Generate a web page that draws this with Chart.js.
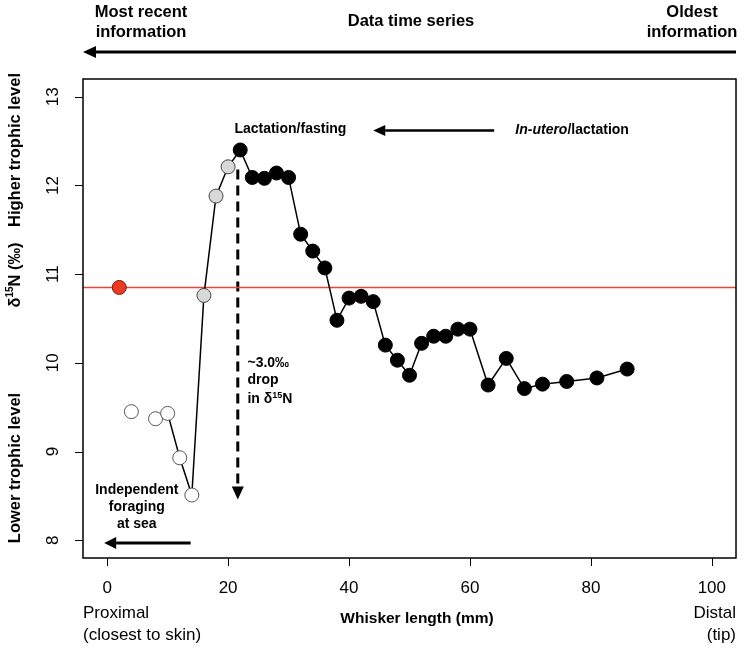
<!DOCTYPE html>
<html>
<head>
<meta charset="utf-8">
<script src="https://cdn.jsdelivr.net/npm/chart.js@4/dist/chart.umd.min.js"></script>
<style>
  html, body { margin: 0; padding: 0; background: #fff; }
  #wrap { width: 744px; height: 648px; position: relative; }
</style>
</head>
<body>
<div id="wrap"><canvas id="chart"></canvas></div>
<script>
// ==================== Data ====================
// whisker length (mm) and d15N (permil)
const whiteX = [4, 8, 10, 12, 14];
const whiteY = [9.45, 9.37, 9.43, 8.93, 8.51];

const greyX = [16, 18, 20];
const greyY = [10.76, 11.88, 12.21];

const blackX = [22, 24, 26, 28, 30, 32, 34, 36, 38, 40, 42, 44, 46, 48, 50, 52, 54, 56, 58, 60, 63, 66, 69, 72, 76, 81, 86];
const blackY = [12.40, 12.09, 12.08, 12.14, 12.09, 11.45, 11.26, 11.07, 10.48, 10.73, 10.75, 10.69, 10.20, 10.03, 9.86,
                10.22, 10.30, 10.30, 10.38, 10.38, 9.75, 10.05, 9.71, 9.76, 9.79, 9.83, 9.93];

const redX = [2];
const redY = [10.85];
const refLevel = 10.85;

// first point that is joined by the line
const lineStartX = 10;

const xTicks = [0, 20, 40, 60, 80, 100];
const yTicks = [8, 9, 10, 11, 12, 13];
const xRange = [-4, 104];
const yRange = [7.8, 13.2];

// ==================== Helpers ====================
const FONT = "'Liberation Sans', Arial, Helvetica, sans-serif";

function pts(xs, ys) {
  return xs.map((x, i) => ({ x: x, y: ys[i] }));
}

const linePts = pts(
  whiteX.concat(greyX, blackX),
  whiteY.concat(greyY, blackY)
).filter(p => p.x >= lineStartX);

function arrow(ctx, x1, y1, x2, y2, lw, headLen, headW, dash) {
  const ang = Math.atan2(y2 - y1, x2 - x1);
  const bx = x2 - Math.cos(ang) * headLen;
  const by = y2 - Math.sin(ang) * headLen;
  ctx.save();
  ctx.strokeStyle = '#000';
  ctx.fillStyle = '#000';
  ctx.lineWidth = lw;
  ctx.setLineDash(dash || []);
  ctx.beginPath();
  ctx.moveTo(x1, y1);
  ctx.lineTo(bx, by);
  ctx.stroke();
  ctx.setLineDash([]);
  ctx.beginPath();
  ctx.moveTo(x2, y2);
  ctx.lineTo(bx + Math.sin(ang) * headW / 2, by - Math.cos(ang) * headW / 2);
  ctx.lineTo(bx - Math.sin(ang) * headW / 2, by + Math.cos(ang) * headW / 2);
  ctx.closePath();
  ctx.fill();
  ctx.restore();
}

// segments: [{t, f, dy}] drawn on one baseline
function rich(ctx, segs, x, y, align) {
  let w = 0;
  segs.forEach(s => { ctx.font = s.f; w += ctx.measureText(s.t).width; });
  let cx = align === 'center' ? x - w / 2 : (align === 'right' ? x - w : x);
  ctx.textAlign = 'left';
  segs.forEach(s => {
    ctx.font = s.f;
    ctx.fillText(s.t, cx, y + (s.dy || 0));
    cx += ctx.measureText(s.t).width;
  });
}

function text(ctx, str, x, y, font, align) {
  ctx.font = font;
  ctx.textAlign = align || 'center';
  ctx.fillText(str, x, y);
}

// ==================== Plugin: frame, axes, notes ====================
const decor = {
  id: 'decor',
  beforeDatasetsDraw(chart) {
    const ctx = chart.ctx;
    const xs = chart.scales.x, ys = chart.scales.y;
    // dashed drop arrow
    const dx = xs.getPixelForValue(21.6);
    arrow(ctx, dx, ys.getPixelForValue(12.18), dx, ys.getPixelForValue(8.46), 3, 13, 12, [10, 6]);
  },
  afterDraw(chart) {
    const ctx = chart.ctx;
    const a = chart.chartArea;
    const xs = chart.scales.x, ys = chart.scales.y;
    const X = v => xs.getPixelForValue(v);
    const Y = v => ys.getPixelForValue(v);

    ctx.save();
    ctx.fillStyle = '#000';
    ctx.textBaseline = 'middle';

    // frame
    ctx.strokeStyle = '#000';
    ctx.lineWidth = 1.5;
    ctx.strokeRect(a.left, a.top, a.right - a.left, a.bottom - a.top);

    // x ticks
    ctx.lineWidth = 1;
    xTicks.forEach(v => {
      const px = Math.round(X(v)) + 0.5;
      ctx.beginPath();
      ctx.moveTo(px, a.bottom);
      ctx.lineTo(px, a.bottom + 8);
      ctx.stroke();
      text(ctx, String(v), X(v), a.bottom + 30, '17px ' + FONT);
    });

    // y ticks, labels rotated like base R
    yTicks.forEach(v => {
      const py = Math.round(Y(v)) + 0.5;
      ctx.beginPath();
      ctx.moveTo(a.left, py);
      ctx.lineTo(a.left - 8, py);
      ctx.stroke();
      ctx.save();
      ctx.translate(a.left - 30, Y(v));
      ctx.rotate(-Math.PI / 2);
      text(ctx, String(v), 0, 0, '17px ' + FONT);
      ctx.restore();
    });

    // y axis titles
    const bold16 = 'bold 16.5px ' + FONT;
    ctx.save();
    ctx.translate(15, 0);
    ctx.rotate(-Math.PI / 2);
    text(ctx, 'Higher trophic level', -150, 0, bold16);
    text(ctx, 'Lower trophic level', -468, 0, bold16);
    rich(ctx, [
      { t: 'δ', f: bold16 },
      { t: '15', f: 'bold 10px ' + FONT, dy: -5 },
      { t: 'N (‰)', f: bold16 }
    ], -275, 0, 'center');
    ctx.restore();

    // bottom texts
    text(ctx, 'Proximal', a.left, 613, '17px ' + FONT, 'left');
    text(ctx, '(closest to skin)', a.left, 635, '17px ' + FONT, 'left');
    text(ctx, 'Whisker length (mm)', 417, 619, 'bold 15.5px ' + FONT, 'center');
    text(ctx, 'Distal', a.right, 613, '17px ' + FONT, 'right');
    text(ctx, '(tip)', a.right, 635, '17px ' + FONT, 'right');

    // header
    text(ctx, 'Most recent', 141, 12, bold16);
    text(ctx, 'information', 141, 32, bold16);
    text(ctx, 'Data time series', 411, 21, bold16);
    text(ctx, 'Oldest', 692, 12, bold16);
    text(ctx, 'information', 692, 32, bold16);
    arrow(ctx, a.right, 52, a.left, 52, 3, 13, 12);

    // notes inside the plot
    const b14 = 'bold 14px ' + FONT;
    text(ctx, 'Lactation/fasting', X(30.3), Y(12.63), b14);
    arrow(ctx, X(64), Y(12.62), X(44), Y(12.62), 2.5, 12, 11);
    rich(ctx, [
      { t: 'In-utero', f: 'italic bold 14px ' + FONT },
      { t: '/lactation', f: b14 }
    ], X(67.5), Y(12.62), 'left');

    text(ctx, '~3.0‰', X(23.2), Y(10.0), b14, 'left');
    text(ctx, 'drop', X(23.2), Y(9.80), b14, 'left');
    rich(ctx, [
      { t: 'in δ', f: b14 },
      { t: '15', f: 'bold 9px ' + FONT, dy: -4 },
      { t: 'N', f: b14 }
    ], X(23.2), Y(9.59), 'left');

    text(ctx, 'Independent', X(4.9), Y(8.57), b14);
    text(ctx, 'foraging', X(4.9), Y(8.37), b14);
    text(ctx, 'at sea', X(4.9), Y(8.18), b14);
    arrow(ctx, X(13.8), Y(7.97), X(-0.5), Y(7.97), 3, 12, 12);

    ctx.restore();
  }
};

// ==================== Chart ====================
const pointBase = { showLine: false, pointRadius: 7, pointHoverRadius: 7, borderWidth: 1, order: 1 };

new Chart(document.getElementById('chart'), {
  type: 'scatter',
  data: {
    datasets: [
      Object.assign({}, pointBase, {
        label: 'red', data: pts(redX, redY),
        backgroundColor: '#ec3a23', borderColor: '#7a1a10'
      }),
      Object.assign({}, pointBase, {
        label: 'white', data: pts(whiteX, whiteY),
        backgroundColor: '#ffffff', borderColor: '#555555'
      }),
      Object.assign({}, pointBase, {
        label: 'grey', data: pts(greyX, greyY),
        backgroundColor: '#d8d8d8', borderColor: '#444444'
      }),
      Object.assign({}, pointBase, {
        label: 'black', data: pts(blackX, blackY),
        backgroundColor: '#000000', borderColor: '#000000'
      }),
      {
        label: 'path', data: linePts, showLine: true, pointRadius: 0,
        borderColor: '#000', borderWidth: 1.5, tension: 0, order: 3
      },
      {
        label: 'reference', data: [{ x: xRange[0], y: refLevel }, { x: xRange[1], y: refLevel }],
        showLine: true, pointRadius: 0, borderColor: '#e8463a', borderWidth: 1.5, order: 4
      }
    ]
  },
  options: {
    responsive: true,
    maintainAspectRatio: false,
    animation: false,
    events: [],
    layout: { padding: { left: 83, right: 7, top: 79, bottom: 90 } },
    plugins: { legend: { display: false }, tooltip: { enabled: false } },
    scales: {
      x: { type: 'linear', min: xRange[0], max: xRange[1], display: false },
      y: { type: 'linear', min: yRange[0], max: yRange[1], display: false }
    }
  },
  plugins: [decor]
});
</script>
</body>
</html>
